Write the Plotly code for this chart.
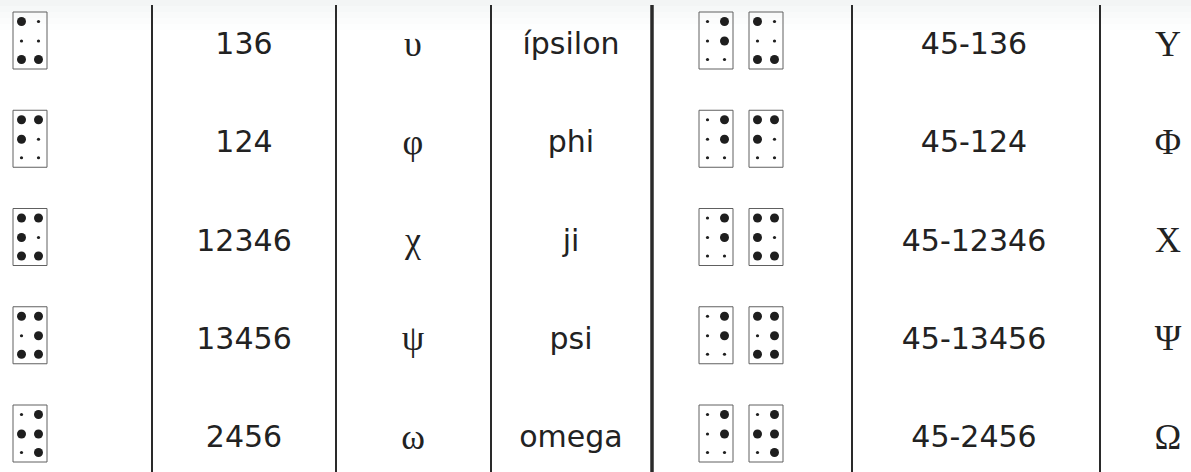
import plotly.graph_objects as go

# ---- data ----
braille_single = ["136", "124", "12346", "13456", "2456"]
greek_lower = ["υ", "φ", "χ", "ψ", "ω"]
letter_names = ["ípsilon", "phi", "ji", "psi", "omega"]
braille_double = ["45-136", "45-124", "45-12346", "45-13456", "45-2456"]
greek_upper = ["Υ", "Φ", "Χ", "Ψ", "Ω"]

# ---- layout constants (pixels) ----
W, H = 1191, 472
ROW0 = 40.5          # pixel centre of first row
STEP = 98.25         # pixel distance between rows
col_edges = [152, 336, 491, 652, 852, 1100]
col_x = {"cell1": 30, "dots": 244, "lower": 413, "name": 571,
         "cellA": 716, "cellB": 766, "dots2": 974, "upper": 1168}
DX = 8.5                     # half distance between dot columns (px)
DY = [-19.0, 0.5, 19.0]      # dot row offsets (px)
BOX_W, BOX_H = 34, 57

def py(px):  # pixel offset -> row units
    return px / STEP

rows = list(range(len(braille_single)))

fig = go.Figure()
shapes = []

# faint top band
for k, op in enumerate([0.8, 0.6, 0.4, 0.25, 0.1]):
    shapes.append(dict(type="rect", xref="x", yref="y", x0=0, x1=W,
                       y0=py(-ROW0 + k * 6), y1=py(-ROW0 + k * 6 + 6),
                       fillcolor="#f0f3f3", opacity=op, line=dict(width=0), layer="below"))

# braille cells
big_x, big_y, small_x, small_y = [], [], [], []

def add_cell(cx, row, pattern):
    for d in range(1, 7):
        col = 0 if d <= 3 else 1
        r = (d - 1) % 3
        x = cx + (-DX if col == 0 else DX)
        y = row + py(DY[r])
        if str(d) in pattern:
            big_x.append(x); big_y.append(y)
        else:
            small_x.append(x); small_y.append(y)
    shapes.append(dict(type="rect", xref="x", yref="y",
                       x0=cx - BOX_W / 2, x1=cx + BOX_W / 2,
                       y0=row - py(BOX_H / 2), y1=row + py(BOX_H / 2),
                       line=dict(color="#606060", width=1)))

for i in rows:
    add_cell(col_x["cell1"], i, braille_single[i])
    a, b = braille_double[i].split("-")
    add_cell(col_x["cellA"], i, a)
    add_cell(col_x["cellB"], i, b)

fig.add_trace(go.Scatter(x=small_x, y=small_y, mode="markers",
                         marker=dict(size=3.2, color="#1e1e1e", line=dict(width=0)),
                         hoverinfo="skip"))
fig.add_trace(go.Scatter(x=big_x, y=big_y, mode="markers",
                         marker=dict(size=9, color="#1e1e1e", line=dict(width=0)),
                         hoverinfo="skip"))

sans = dict(family="DejaVu Sans, Verdana, sans-serif", size=30, color="#222222")
serif = dict(family="Liberation Serif, Times New Roman, serif", size=36, color="#222222")

def text_col(x, labels, font, dy=0):
    fig.add_trace(go.Scatter(x=[x] * len(labels), y=[r + py(dy) for r in rows],
                             mode="text", text=labels, textposition="middle center",
                             textfont=font, hoverinfo="skip"))

text_col(col_x["dots"], braille_single, sans, 6)
text_col(col_x["lower"], greek_lower, serif, 6)
text_col(col_x["name"], letter_names, sans, 6)
text_col(col_x["dots2"], braille_double, sans, 6)
text_col(col_x["upper"], greek_upper, serif, 6)

# vertical separators
for e in col_edges:
    shapes.append(dict(type="line", xref="x", yref="paper", x0=e, x1=e,
                       y0=0, y1=1 - 5 / H,
                       line=dict(color="#2a2a2a", width=3.5 if e == 652 else 2)))

fig.update_layout(
    width=W, height=H, margin=dict(l=0, r=0, t=0, b=0),
    paper_bgcolor="white", plot_bgcolor="white", showlegend=False,
    shapes=shapes,
    xaxis=dict(range=[0, W], visible=False, fixedrange=True),
    yaxis=dict(range=[(H - ROW0) / STEP, -ROW0 / STEP], visible=False, fixedrange=True),
)
fig.write_html("out.html", config={"displayModeBar": False},
               post_script="document.body.style.margin='0';document.body.style.overflow='hidden';")
